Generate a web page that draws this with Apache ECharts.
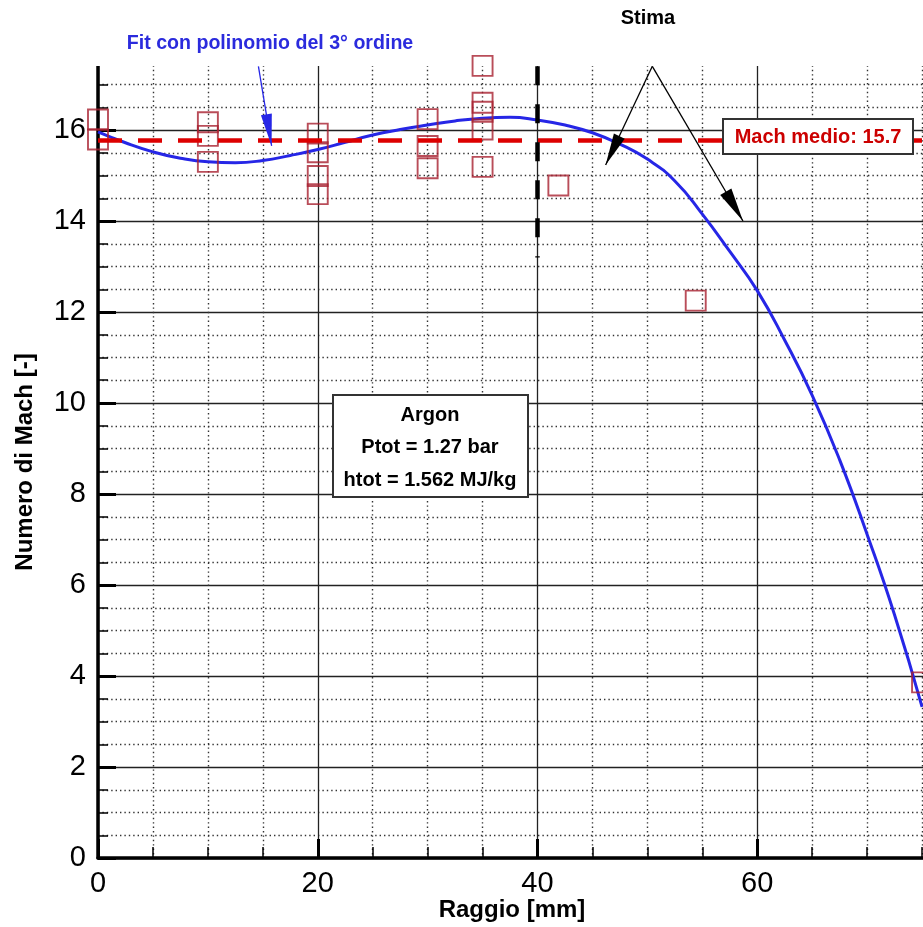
<!DOCTYPE html>
<html>
<head>
<meta charset="utf-8">
<script src="https://cdn.jsdelivr.net/npm/echarts@6/dist/echarts.min.js"></script>
<style>
html,body{margin:0;padding:0;background:#fff;width:923px;height:927px;overflow:hidden;}
#chart{width:980px;height:927px;}
</style>
</head>
<body>
<div id="chart"></div>
<script>
// Measured points (Raggio [mm], Numero di Mach)
const pointX = [0, 0, 10, 10, 10, 20, 20, 20, 20, 30, 30, 30, 35, 35, 35, 35, 35, 41.9, 54.4, 75];
const pointY = [16.23, 15.79, 16.17, 15.87, 15.30, 15.92, 15.51, 14.99, 14.59, 16.24, 15.65, 15.16, 17.41, 16.60, 16.40, 16.01, 15.19, 14.78, 12.25, 3.86];

// 3rd order polynomial fit
const fitX = [0, 2.5, 5, 7.5, 10, 12.5, 15, 17.5, 20, 22.5, 25, 27.5, 30, 32.5, 35, 37.5, 40, 42.5, 45, 47.5, 50, 52.5, 55, 57.5, 60, 62.5, 65, 67.5, 70, 72.5, 75];
const fitY = [15.96, 15.72, 15.52, 15.38, 15.30, 15.28, 15.33, 15.44, 15.57, 15.73, 15.89, 16.01, 16.11, 16.20, 16.26, 16.28, 16.22, 16.11, 15.94, 15.69, 15.36, 14.88, 14.15, 13.33, 12.47, 11.38, 10.17, 8.75, 7.11, 5.34, 3.32];

const machMedio = 15.78;
const stimaLineX = [40, 40];
const stimaLineY = [17.4, 13.2];
const stimaApex = [50.45, 17.4];
const stimaTips = [[46.2, 15.23], [58.7, 14.0]];
const fitArrow = [[14.6, 17.4], [15.8, 15.65]];

const xTicks = [0, 20, 40, 60];
const yTicks = [0, 2, 4, 6, 8, 10, 12, 14, 16];

const FONT = '"Liberation Sans", Arial, sans-serif';

const chart = echarts.init(document.getElementById('chart'), null, {renderer: 'canvas'});

const gridLine = {show: true, lineStyle: {color: '#222', width: 1.3, type: 'solid'}};
const minorLine = {show: true, lineStyle: {color: '#333', width: 1.4, type: [1.4, 3]}};

const arrowHead = (w, h) => ({symbol: 'triangle', symbolSize: [w, h], symbolOffset: [0, '50%']});

const option = {
  animation: false,
  backgroundColor: '#fff',
  grid: {left: 98, top: 39, width: 881.6, height: 819, containLabel: false},
  xAxis: {
    type: 'value', min: 0, max: 80, interval: 20,
    axisLine: {show: true, onZero: false, lineStyle: {color: '#000', width: 3.5}},
    axisTick: {show: true, inside: true, length: 19, lineStyle: {color: '#000', width: 3}},
    minorTick: {show: true, splitNumber: 4, length: 11, lineStyle: {color: '#000', width: 1.5}},
    splitLine: gridLine,
    minorSplitLine: minorLine,
    axisLabel: {
      show: true, margin: 11, color: '#000', fontSize: 29, fontFamily: FONT,
      formatter: v => xTicks.indexOf(v) >= 0 ? String(v) : ''
    }
  },
  yAxis: {
    type: 'value', min: 0, max: 18, interval: 2,
    axisLine: {show: true, onZero: false, lineStyle: {color: '#000', width: 3.5}},
    axisTick: {show: true, inside: true, length: 18, lineStyle: {color: '#000', width: 3}},
    minorTick: {show: true, splitNumber: 4, length: 10, lineStyle: {color: '#000', width: 1.5}},
    splitLine: gridLine,
    minorSplitLine: minorLine,
    axisLabel: {
      show: true, margin: 12, color: '#000', fontSize: 29, fontFamily: FONT,
      formatter: v => yTicks.indexOf(v) >= 0 ? String(v) : ''
    }
  },
  series: [
    {
      type: 'line',
      name: 'fit',
      data: fitX.map((x, i) => [x, fitY[i]]),
      smooth: 0.5,
      showSymbol: false,
      symbol: 'none',
      clip: false,
      lineStyle: {color: '#2626e6', width: 3},
      z: 3
    },
    {
      type: 'scatter',
      name: 'punti',
      data: pointX.map((x, i) => [x, pointY[i]]),
      symbol: 'rect',
      symbolSize: 20,
      clip: false,
      itemStyle: {color: 'rgba(0,0,0,0)', borderColor: '#a8202f', borderWidth: 1.9},
      z: 4,
      markLine: {
        silent: true,
        animation: false,
        symbol: 'none',
        label: {show: false},
        data: [
          [
            {coord: [0, machMedio], symbol: 'none', lineStyle: {color: '#dd0000', width: 4.5, type: [24, 16]}},
            {coord: [80, machMedio], symbol: 'none'}
          ],
          [
            {coord: [stimaLineX[0], stimaLineY[0]], symbol: 'none', lineStyle: {color: '#000', width: 4.5, type: [19, 19]}},
            {coord: [stimaLineX[1], stimaLineY[1]], symbol: 'none'}
          ],
          [
            {coord: stimaApex, symbol: 'none', lineStyle: {color: '#000', width: 1.3, type: 'solid'}},
            Object.assign({coord: stimaTips[0]}, arrowHead(12, 32))
          ],
          [
            {coord: stimaApex, symbol: 'none', lineStyle: {color: '#000', width: 1.3, type: 'solid'}},
            Object.assign({coord: stimaTips[1]}, arrowHead(13, 34))
          ],
          [
            {coord: fitArrow[0], symbol: 'none', lineStyle: {color: '#2626e6', width: 1.3, type: 'solid'}},
            Object.assign({coord: fitArrow[1], itemStyle: {color: '#2626e6'}}, arrowHead(11, 32))
          ]
        ]
      }
    }
  ],
  graphic: [
    {type: 'rect', z: 1, shape: {x: 0, y: 0, width: 980, height: 66}, style: {fill: '#fff'}},
    {type: 'text', z: 20, x: 270, y: 44,
      style: {text: 'Fit con polinomio del 3° ordine', font: 'bold 19.6px ' + FONT, fill: '#2b2bdd', align: 'center', verticalAlign: 'middle'}},
    {type: 'text', z: 20, x: 648, y: 18,
      style: {text: 'Stima', font: 'bold 20px ' + FONT, fill: '#000', align: 'center', verticalAlign: 'middle'}},
    {type: 'rect', z: 20, shape: {x: 723, y: 119, width: 190, height: 35},
      style: {fill: '#fff', stroke: '#333', lineWidth: 2}},
    {type: 'text', z: 21, x: 818, y: 137,
      style: {text: 'Mach medio: 15.7', font: 'bold 20px ' + FONT, fill: '#cc0000', align: 'center', verticalAlign: 'middle'}},
    {type: 'rect', z: 20, shape: {x: 333, y: 395, width: 195, height: 102},
      style: {fill: '#fff', stroke: '#333', lineWidth: 2}},
    {type: 'text', z: 21, x: 430, y: 415,
      style: {text: 'Argon', font: 'bold 20px ' + FONT, fill: '#000', align: 'center', verticalAlign: 'middle'}},
    {type: 'text', z: 21, x: 430, y: 447,
      style: {text: 'Ptot = 1.27 bar', font: 'bold 20px ' + FONT, fill: '#000', align: 'center', verticalAlign: 'middle'}},
    {type: 'text', z: 21, x: 430, y: 480,
      style: {text: 'htot = 1.562 MJ/kg', font: 'bold 20px ' + FONT, fill: '#000', align: 'center', verticalAlign: 'middle'}},
    {type: 'text', z: 21, x: 512, y: 910,
      style: {text: 'Raggio [mm]', font: 'bold 24px ' + FONT, fill: '#000', align: 'center', verticalAlign: 'middle'}},
    {type: 'text', z: 21, x: 25, y: 462, rotation: Math.PI / 2,
      style: {text: 'Numero di Mach [-]', font: 'bold 24px ' + FONT, fill: '#000', align: 'center', verticalAlign: 'middle'}}
  ]
};

chart.setOption(option);
</script>
</body>
</html>
